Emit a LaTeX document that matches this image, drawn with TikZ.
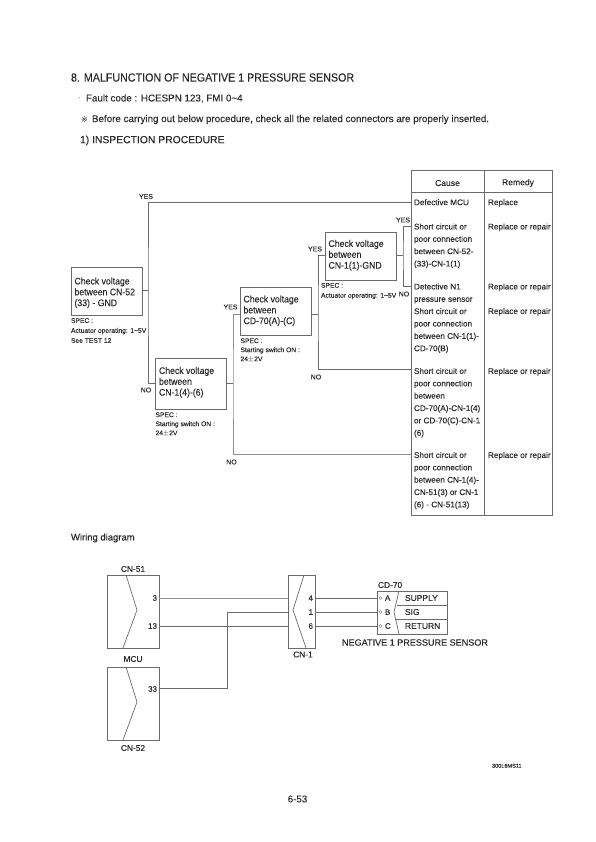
\documentclass[tikz,border=0pt]{standalone}
\usepackage{fontspec}
\setmainfont[FakeBold=0.06]{Liberation Sans}
\newfontfamily\narrowf[FakeStretch=0.91,FakeBold=0.06]{Liberation Sans}
\newfontfamily\boldishf[FakeBold=0.25]{Liberation Sans}
\newfontfamily\symfont{DejaVu Sans}
\usetikzlibrary{calc}
\definecolor{ink}{gray}{0.17}
\definecolor{wire}{gray}{0.42}
\tikzset{
  x=1bp,y=-1bp,
  every node/.style={text=ink,inner sep=0pt,outer sep=0pt},
  flow/.style={draw=wire,line width=0.7bp},
  softflow/.style={draw=wire!75,line width=0.9bp},
  checkbox/.style={draw=wire,line width=0.8bp,anchor=north west},
  boxtext/.style={anchor=north west,font=\narrowf\fontsize{9.6}{10.9}\selectfont,align=left},
  spec/.style={font=\fontsize{6.75}{10}\selectfont,align=left,anchor=north west},
  spectight/.style={font=\fontsize{6.75}{9.1}\selectfont,align=left,anchor=north west},
  ans/.style={font=\fontsize{7}{8}\selectfont},
  cell/.style={font=\fontsize{8.2}{12.4}\selectfont,align=left,anchor=north west},
  head/.style={font=\fontsize{8.6}{10}\selectfont},
  outline/.style={draw=wire,line width=0.7bp},
  pin/.style={font=\fontsize{8}{9}\selectfont},
  legend/.style={font=\fontsize{8.5}{9}\selectfont},
  tag/.style={font=\fontsize{8.4}{10}\selectfont},
}
\begin{document}
\begin{tikzpicture}
\useasboundingbox[fill=white] (0,0) rectangle (596,842);
% headings
\node[anchor=west,font=\narrowf\fontsize{11.8}{13}\selectfont] at (71,77.5) {8. MALFUNCTION OF NEGATIVE 1 PRESSURE SENSOR};
\node[anchor=west,font=\fontsize{9.85}{11}\selectfont] at (86,98.5) {Fault code : HCESPN 123, FMI 0\textasciitilde 4};
\node[anchor=west,font=\fontsize{7}{9}\selectfont] at (78,98.5) {·};
\node[anchor=west,font=\fontsize{8}{11}\selectfont\symfont] at (81,119.5) {※};
\node[anchor=west,font=\fontsize{9.85}{11}\selectfont] at (92,119.5) {Before carrying out below procedure, check all the related connectors are properly inserted.};
\node[anchor=west,font=\fontsize{10.4}{12}\selectfont] at (80,140.5) {1)\ INSPECTION PROCEDURE};
% check boxes
\node[checkbox,minimum width=71bp,minimum height=48bp] (b1) at (71,267) {};
\node[boxtext] at (74.5,277.5) {Check voltage\\between CN-52\\(33) - GND};
\node[checkbox,minimum width=71bp,minimum height=51bp] (b2) at (155,358) {};
\node[boxtext] at (159,367) {Check voltage\\between\\CN-1(4)-(6)};
\node[checkbox,minimum width=71bp,minimum height=48bp] (b3) at (240,287) {};
\node[boxtext] at (243.5,295.5) {Check voltage\\between\\CD-70(A)-(C)};
\node[checkbox,minimum width=71bp,minimum height=48bp] (b4) at (325,232) {};
\node[boxtext] at (328.5,240) {Check voltage\\between\\CN-1(1)-GND};
% specs
\node[spec] at (71,318.2) {SPEC :\\Actuator operating: 1\textasciitilde 5V\\See TEST 12};
\node[spectight] at (155.5,412.4) {SPEC :\\Starting switch ON :\\24$\pm$2V};
\node[spectight] at (240.5,338.4) {SPEC :\\Starting switch ON :\\24$\pm$2V};
\node[spec] at (321,283) {SPEC :\\Actuator operating: 1\textasciitilde 5V};
% table
\coordinate (tnw) at (411,170);
\coordinate (tse) at (552,515);
\draw[outline,line width=0.9bp] (tnw) rectangle (tse);
\draw[outline] (484,170) -- (484,515);
\draw[outline] (411,192) -- (552,192);
\node[head] at (447.5,183) {Cause};
\node[head] at (518,183) {Remedy};
\coordinate (c1) at (411,202);
\coordinate (c2) at (411,226);
\coordinate (c3) at (411,286);
\coordinate (c5) at (411,369);
\coordinate (c6) at (411,454);
\node[cell] at (414,199.2) {Defective MCU};
\node[cell] at (414,223.5) {Short circuit or\\poor connection\\between CN-52-\\(33)-CN-1(1)};
\node[cell] at (414,283.5) {Detective N1\\pressure sensor\\Short circuit or\\poor connection\\between CN-1(1)-\\CD-70(B)};
\node[cell] at (414,368) {Short circuit or\\poor connection\\between\\CD-70(A)-CN-1(4)\\or CD-70(C)-CN-1\\(6)};
\node[cell] at (414,452) {Short circuit or\\poor connection\\between CN-1(4)-\\CN-51(3) or CN-1\\(6) - CN-51(13)};
\node[cell] at (488,199.2) {Replace};
\node[cell] at (488,223.5) {Replace or repair};
\node[cell] at (488,283.5) {Replace or repair};
\node[cell] at (488,308) {Replace or repair};
\node[cell] at (488,368) {Replace or repair};
\node[cell] at (488,452) {Replace or repair};
% flow connectors
\coordinate (j1) at (148,290.5);
\coordinate (j2) at (233,383);
\coordinate (j3) at (318,314);
\coordinate (j4) at (403,255);
\draw[flow] (b1.east |- j1) -- (j1);
\draw[flow] (c1) -| (j1) |- (b2.west |- j2);
\draw[flow] (b2.east |- j2) -- (j2);
\draw[softflow] (b3.west |- j3) -| (j2) |- (c6);
\draw[flow] (b3.east |- j3) -- (j3);
\draw[flow] (b4.west |- j4) -| (j3) |- (c5);
\draw[flow] (b4.east |- j4) -- (j4);
\draw[flow] (c2) -| (j4) |- (c3);
% answers
\node[ans] at (146,196.5) {YES};
\node[ans] at (146,390) {NO};
\node[ans] at (230.5,307) {YES};
\node[ans] at (231.5,462) {NO};
\node[ans] at (315,249) {YES};
\node[ans] at (316,377) {NO};
\node[ans] at (403,220) {YES};
\node[ans] at (404,294) {NO};
% wiring diagram
\node[anchor=west,font=\boldishf\fontsize{9.5}{10}\selectfont] at (71,538) {Wiring diagram};
\node[outline,minimum width=52bp,minimum height=73bp,anchor=north west] (cn51) at (107,575) {};
\node[outline,minimum width=52bp,minimum height=73bp,anchor=north west] (cn52) at (107,667) {};
\node[outline,minimum width=27bp,minimum height=73bp,anchor=north west] (cn1) at (288,575) {};
\node[outline,minimum width=70bp,minimum height=43bp,anchor=north west] (cd70) at (377,591) {};
\draw[outline] (126,575) -- (137,610) -- (123,648);
\draw[outline] (126,667) -- (137,702) -- (123,740);
\draw[outline] (304,575) -- (293,610) -- (306,648);
\draw[outline] (399,591) -- (394,612) -- (399,634);
\draw[outline] (397,605) -- (447,605);
\draw[outline] (395,619.5) -- (447,619.5);
\coordinate (w33) at (227,688);
\draw[softflow] (cn51.east |- 0,598) -- (cn1.west |- 0,598);
\draw[flow] (cn51.east |- 0,626) -- (cn1.west |- 0,626);
\draw[flow] (cn52.east |- w33) -- (w33) |- (cn1.west |- 0,612);
\draw[flow] (cn1.east |- 0,598) -- (cd70.west |- 0,598);
\draw[flow] (cn1.east |- 0,612) -- (cd70.west |- 0,612);
\draw[flow] (cn1.east |- 0,626) -- (cd70.west |- 0,626);
\foreach \yy in {598,612,626} \draw[outline,line width=0.4bp] (380.5,\yy) circle (1.3bp);
\node[tag] at (133,569) {CN-51};
\node[tag] at (133,659) {MCU};
\node[tag] at (133,748) {CN-52};
\node[tag] at (303,654.5) {CN-1};
\node[tag,anchor=west] at (378,585) {CD-70};
\node[pin,anchor=east] at (157,598) {3};
\node[pin,anchor=east] at (157,626) {13};
\node[pin,anchor=east] at (157,689) {33};
\node[pin,anchor=east] at (313,598) {4};
\node[pin,anchor=east] at (313,612) {1};
\node[pin,anchor=east] at (313,626) {6};
\node[pin,anchor=west] at (385,598) {A};
\node[pin,anchor=west] at (385,612) {B};
\node[pin,anchor=west] at (385,626) {C};
\node[legend,anchor=west] at (405,598) {SUPPLY};
\node[legend,anchor=west] at (405,612) {SIG};
\node[legend,anchor=west] at (405,626) {RETURN};
\node[anchor=west,font=\fontsize{9.1}{10}\selectfont] at (342,642.5) {NEGATIVE 1 PRESSURE SENSOR};
\node[anchor=west,font=\fontsize{5.6}{7}\selectfont] at (492,765.8) {300L6MS11};
\node[font=\fontsize{9.8}{11}\selectfont] at (297.5,799) {6-53};
\end{tikzpicture}
\end{document}
